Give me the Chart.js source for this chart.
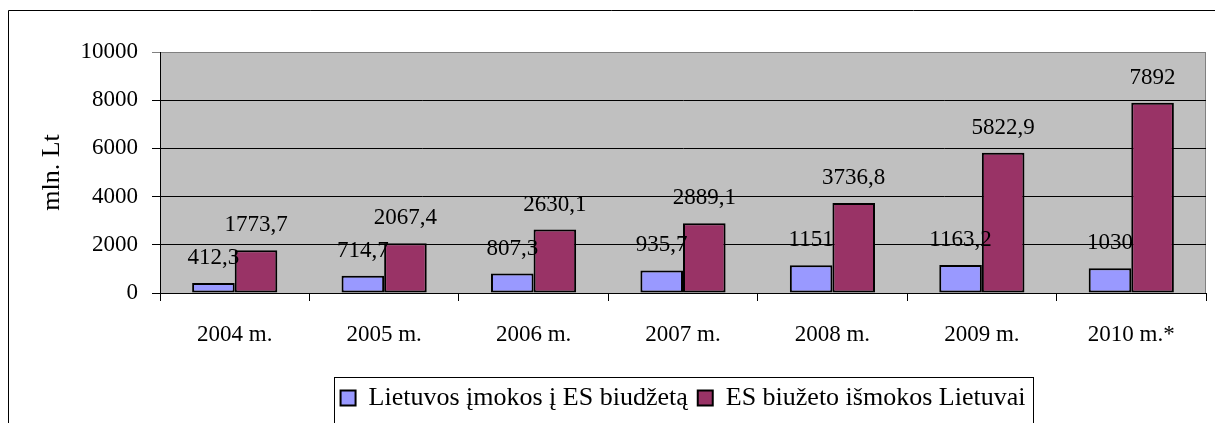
<!DOCTYPE html>
<html>
<head>
<meta charset="utf-8">
<script src="https://cdn.jsdelivr.net/npm/chart.js@4/dist/chart.umd.min.js"></script>
<style>
  html, body { margin: 0; padding: 0; background: #fff; }
  #wrap { width: 1215px; height: 423px; }
</style>
</head>
<body>
<div id="wrap"><canvas id="chartOutput" width="1215" height="423"></canvas></div>
<script>
// Values
var years = ['2004 m.', '2005 m.', '2006 m.', '2007 m.', '2008 m.', '2009 m.', '2010 m.*'];
var imokos = [412.3, 714.7, 807.3, 935.7, 1151, 1163.2, 1030];
var ismokos = [1773.7, 2067.4, 2630.1, 2889.1, 3736.8, 5822.9, 7892];
var seriesNames = ['Lietuvos įmokos į ES biudžetą', 'ES biužeto išmokos Lietuvai'];

var serif = "'Liberation Serif', serif";

// grey plot area, plot border and the outer frame
var backdrop = {
    id: 'backdrop',
    beforeDraw: function (chart) {
        var ctx = chart.ctx, a = chart.chartArea;
        ctx.save();
        ctx.fillStyle = '#C0C0C0';
        ctx.fillRect(a.left, a.top, a.right - a.left, a.bottom - a.top);
        ctx.strokeStyle = '#808080';
        ctx.lineWidth = 1;
        ctx.strokeRect(a.left + 0.5, a.top + 0.5, a.right - a.left - 1, a.bottom - a.top);
        // outer frame
        ctx.strokeStyle = '#000';
        ctx.beginPath();
        ctx.moveTo(8.5, 423);
        ctx.lineTo(8.5, 10.5);
        ctx.lineTo(1215, 10.5);
        ctx.stroke();
        ctx.restore();
    }
};

// value labels above each bar, plus the legend frame
var valueLabels = {
    id: 'valueLabels',
    afterDatasetsDraw: function (chart) {
        var ctx = chart.ctx;
        ctx.save();
        ctx.font = '23px ' + serif;
        ctx.fillStyle = '#000';
        ctx.textAlign = 'center';
        ctx.textBaseline = 'middle';
        chart.data.datasets.forEach(function (ds, i) {
            chart.getDatasetMeta(i).data.forEach(function (bar, j) {
                var txt = String(ds.data[j]).replace('.', ',');
                ctx.fillText(txt, bar.x, bar.y - 25);
            });
        });
        ctx.restore();
    },
    afterDraw: function (chart) {
        var lg = chart.legend;
        if (!lg || !lg.legendHitBoxes.length) return;
        var boxes = lg.legendHitBoxes;
        var x0 = boxes[0].left - 7;
        var last = boxes[boxes.length - 1];
        var x1 = last.left + last.width + 7;
        var ctx = chart.ctx;
        ctx.save();
        ctx.strokeStyle = '#000';
        ctx.lineWidth = 1;
        ctx.strokeRect(Math.round(x0) + 0.5, 377.5, Math.round(x1 - x0), 50);
        ctx.restore();
    }
};

var ctx = document.getElementById('chartOutput').getContext('2d');
var chart = new Chart(ctx, {
    type: 'bar',
    data: {
        labels: years,
        datasets: [
            {
                label: seriesNames[0],
                data: imokos,
                backgroundColor: '#9999FF',
                borderColor: '#000',
                borderWidth: 2,
                borderSkipped: false
            },
            {
                label: seriesNames[1],
                data: ismokos,
                backgroundColor: '#993366',
                borderColor: '#000',
                borderWidth: 2,
                borderSkipped: false
            }
        ]
    },
    options: {
        responsive: false,
        animation: false,
        devicePixelRatio: 1,
        layout: { padding: { left: 20, top: 52, right: 9, bottom: 2 } },
        datasets: { bar: { categoryPercentage: 0.57, barPercentage: 1 } },
        scales: {
            x: {
                grid: { offset: true, drawOnChartArea: false, tickLength: 8, color: '#000' },
                border: { color: '#000', width: 1 },
                ticks: { font: { family: serif, size: 23 }, color: '#000', padding: 20, maxRotation: 0 },
                afterFit: function (scale) { scale.height = 82; }
            },
            y: {
                min: 0,
                max: 10000,
                ticks: {
                    stepSize: 2000,
                    font: { family: serif, size: 23 },
                    color: '#000',
                    padding: 14,
                    callback: function (v) { return String(v); }
                },
                grid: {
                    tickLength: 8,
                    color: function (c) { return c.tick && c.tick.value === 10000 ? '#808080' : '#000'; }
                },
                border: { color: '#000', width: 1 },
                title: {
                    display: true,
                    text: 'mln. Lt',
                    font: { family: serif, size: 26 },
                    color: '#000',
                    padding: { top: 17, bottom: 0 }
                },
                afterFit: function (scale) { scale.width = 140; }
            }
        },
        plugins: {
            legend: {
                position: 'bottom',
                fullSize: false,
                labels: {
                    font: { family: serif, size: 26 },
                    color: '#000',
                    boxWidth: 15,
                    boxHeight: 15,
                    padding: 10
                }
            },
            tooltip: { enabled: false }
        }
    },
    plugins: [backdrop, valueLabels]
});
</script>
</body>
</html>
